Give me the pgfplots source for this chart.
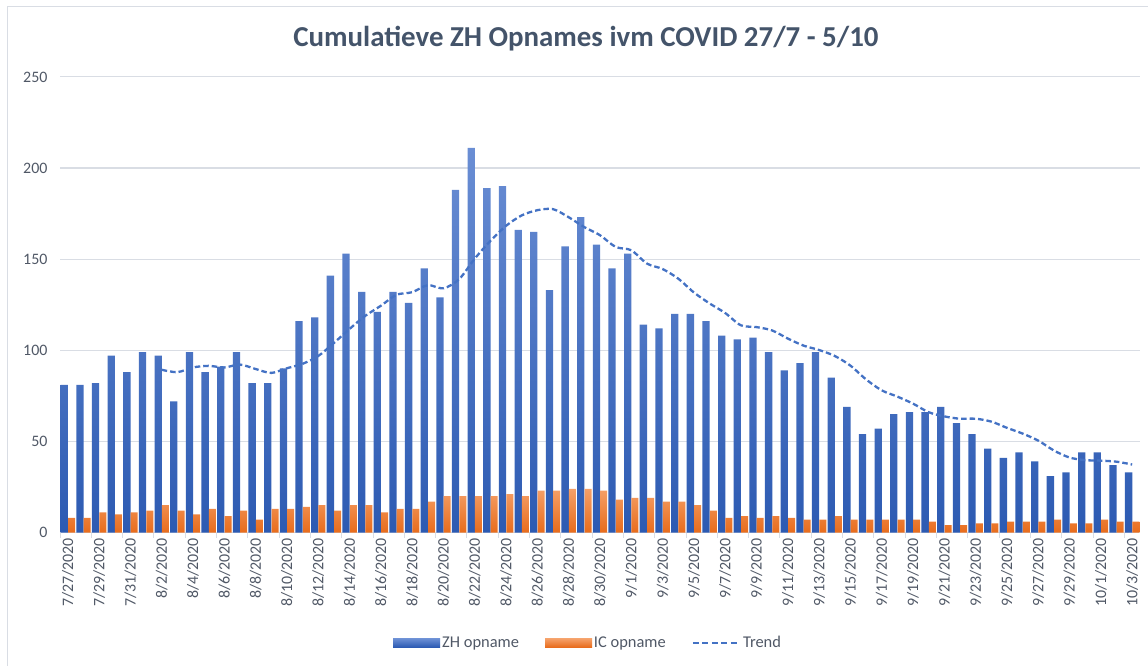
\documentclass[border=0pt]{standalone}
\usepackage{pgfplots}
\usepackage{pgfplotstable}
\pgfplotsset{compat=1.18}
\usepackage{fontspec}
\setmainfont{Carlito}
\definecolor{zhtop}{RGB}{106,142,212}
\definecolor{zhbot}{RGB}{44,90,178}
\definecolor{zhleg}{RGB}{64,110,196}
\definecolor{ictop}{RGB}{245,160,104}
\definecolor{icbot}{RGB}{232,108,28}
\definecolor{icleg}{RGB}{237,125,49}
\definecolor{trendc}{RGB}{68,114,196}
\definecolor{titlec}{RGB}{68,84,106}
\definecolor{labc}{RGB}{80,88,102}
\definecolor{gridc}{RGB}{217,221,228}

\pgfplotstableread{
i zh ic
0 81 8
1 81 8
2 82 11
3 97 10
4 88 11
5 99 12
6 97 15
7 72 12
8 99 10
9 88 13
10 91 9
11 99 12
12 82 7
13 82 13
14 90 13
15 116 14
16 118 15
17 141 12
18 153 15
19 132 15
20 121 11
21 132 13
22 126 13
23 145 17
24 129 20
25 188 20
26 211 20
27 189 20
28 190 21
29 166 20
30 165 23
31 133 23
32 157 24
33 173 24
34 158 23
35 145 18
36 153 19
37 114 19
38 112 17
39 120 17
40 120 15
41 116 12
42 108 8
43 106 9
44 107 8
45 99 9
46 89 8
47 93 7
48 99 7
49 85 9
50 69 7
51 54 7
52 57 7
53 65 7
54 66 7
55 66 6
56 69 4
57 60 4
58 54 5
59 46 5
60 41 6
61 44 6
62 39 6
63 31 7
64 33 5
65 44 5
66 44 7
67 37 6
68 33 6
}\datatable

\pgfplotstableread{
i ma
6 89.29
7 88.00
8 90.57
9 91.43
10 90.57
11 92.14
12 89.71
13 87.57
14 90.14
15 92.57
16 96.86
17 104.00
18 111.71
19 118.86
20 124.43
21 130.43
22 131.86
23 135.71
24 134.00
25 139.00
26 150.29
27 160.00
28 168.29
29 174.00
30 176.86
31 177.43
32 173.00
33 167.57
34 163.14
35 156.71
36 154.86
37 147.57
38 144.57
39 139.29
40 131.71
41 125.71
42 120.43
43 113.71
44 112.71
45 110.86
46 106.43
47 102.57
48 100.14
49 96.86
50 91.57
51 84.00
52 78.00
53 74.57
54 70.71
55 66.00
56 63.71
57 62.43
58 62.43
59 60.86
60 57.43
61 54.29
62 50.43
63 45.00
64 41.14
65 39.71
66 39.43
67 38.86
68 37.29
}\trendtable

\begin{document}
\begin{tikzpicture}
\draw[gridc, line width=1.2bp] (7.5bp,0bp) -- (7.5bp,659.5bp) -- (1148bp,659.5bp);
\node[font=\fontsize{29}{34}\selectfont\bfseries, text=titlec] at (586bp,627bp) {Cumulatieve ZH Opnames ivm COVID 27/7 - 5/10};
\begin{axis}[
  at={(60bp,133.5bp)}, anchor=south west,
  scale only axis, width=1080bp, height=455.6bp,
  xmin=-0.5, xmax=68.5, ymin=0, ymax=250,
  axis x line*=bottom, axis y line*=left,
  x axis line style={draw=gridc, line width=1.2bp},
  y axis line style={draw=none},
  ytick={0,50,...,250},
  ymajorgrids, grid style={gridc, line width=1.2bp},
  major tick length=0pt,
  minor tick length=5bp,
  tick align=outside,
  minor x tick style={draw=gridc, line width=1bp},
  minor xtick={-0.5,1.5,...,68.5},
  xtick={0,2,...,68},
  xticklabels={7/27/2020,7/29/2020,7/31/2020,8/2/2020,8/4/2020,8/6/2020,8/8/2020,8/10/2020,8/12/2020,8/14/2020,8/16/2020,8/18/2020,8/20/2020,8/22/2020,8/24/2020,8/26/2020,8/28/2020,8/30/2020,9/1/2020,9/3/2020,9/5/2020,9/7/2020,9/9/2020,9/11/2020,9/13/2020,9/15/2020,9/17/2020,9/19/2020,9/21/2020,9/23/2020,9/25/2020,9/27/2020,9/29/2020,10/1/2020,10/3/2020},
  xticklabel style={rotate=90, anchor=east, font=\fontsize{16}{19}\selectfont, text=labc, xshift=-2bp},
  yticklabel style={anchor=east, font=\fontsize{16}{19}\selectfont, text=labc, xshift=-9bp},
  /pgf/number format/assume math mode=true,
  legend columns=3,
  legend style={at={(0.489,-0.2425)}, anchor=center, draw=none, fill=none,
    font=\fontsize{16.5}{19}\selectfont, text=labc,
    /tikz/every even column/.append style={column sep=24bp}},
]
\addplot[ybar, bar width=7.3bp, bar shift=-3.55bp, draw=none, top color=zhtop, bottom color=zhbot,
  legend image code/.code={\fill[zhleg] (0bp,-4.2bp) rectangle (47bp,4.2bp);}]
  table[x=i, y=zh]{\datatable};
\addlegendentry{ZH opname}
\addplot[ybar, bar width=7.0bp, bar shift=3.7bp, draw=none, top color=ictop, bottom color=icbot,
  legend image code/.code={\fill[icleg] (0bp,-4.2bp) rectangle (47bp,4.2bp);}]
  table[x=i, y=ic]{\datatable};
\addlegendentry{IC opname}
\addplot[trendc, line width=2.3bp, dash pattern=on 5.5bp off 3bp, smooth, no marks,
  legend image code/.code={\draw[trendc, line width=2.3bp, dash pattern=on 6bp off 3.5bp] (0bp,0bp) -- (47bp,0bp);}]
  table[x=i, y=ma]{\trendtable};
\addlegendentry{Trend}
\end{axis}
\pgfresetboundingbox
\path[use as bounding box] (0bp,0bp) rectangle (1148bp,666bp);
\end{tikzpicture}
\end{document}
